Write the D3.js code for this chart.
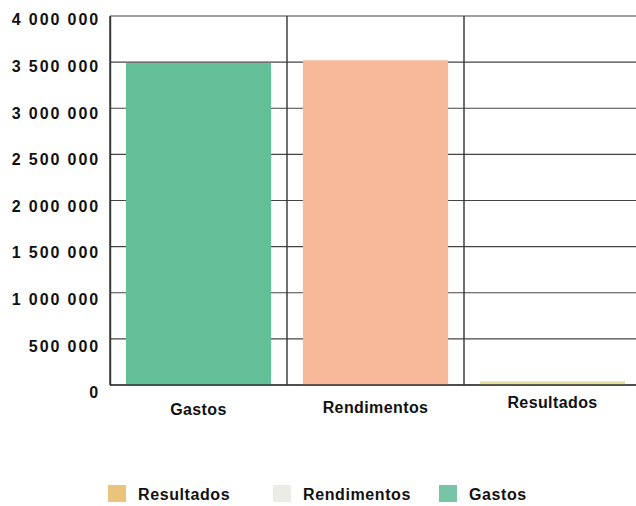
<!DOCTYPE html>
<html>
<head>
<meta charset="utf-8">
<script src="https://cdn.jsdelivr.net/npm/d3@7/dist/d3.min.js"></script>
<style>
  html, body { margin: 0; padding: 0; background: #fff; }
  svg { display: block; }
  text { font-family: "Liberation Sans", Arial, sans-serif; fill: #111; }
</style>
</head>
<body>
<script>
// Categories and values (in euros)
const categories = ["Gastos", "Rendimentos", "Resultados"];
const values = [3490000, 3520000, 40000];
const barColors = ["#63bf98", "#f7b99a", "#e3df9e"];
const yTicks = [0, 500000, 1000000, 1500000, 2000000, 2500000, 3000000, 3500000, 4000000];
const legendLabels = ["Resultados", "Rendimentos", "Gastos"];
const legendColors = ["#ebc47c", "#ececE6", "#79c4a6"];

const W = 636, H = 506;
const margin = { top: 16, right: -5, bottom: 121, left: 110 };

const svg = d3.select("body").append("svg")
  .attr("width", W).attr("height", H);

const x = d3.scaleBand()
  .domain(categories)
  .range([margin.left, W - margin.right])
  .paddingInner(0.18)
  .paddingOuter(0.09);

const y = d3.scaleLinear()
  .domain([0, 4000000])
  .range([H - margin.bottom, margin.top]);

const fmt = v => d3.format(",")(v).replace(/,/g, " ");

// horizontal gridlines
svg.append("g")
  .selectAll("line").data(yTicks).join("line")
  .attr("x1", margin.left).attr("x2", W)
  .attr("y1", d => y(d)).attr("y2", d => y(d))
  .attr("stroke", "#444").attr("stroke-width", 1.2);

// category separators
const step = x.step();
const seps = categories.map((c, i) => margin.left + i * step);
svg.append("g")
  .selectAll("line").data(seps).join("line")
  .attr("x1", d => d).attr("x2", d => d)
  .attr("y1", y(4000000)).attr("y2", y(0))
  .attr("stroke", "#333").attr("stroke-width", 1.4);

// bars
svg.append("g")
  .selectAll("rect").data(categories).join("rect")
  .attr("x", d => x(d))
  .attr("width", x.bandwidth())
  .attr("y", (d, i) => y(values[i]))
  .attr("height", (d, i) => y(0) - y(values[i]))
  .attr("fill", (d, i) => barColors[i]);

// baseline
svg.append("line")
  .attr("x1", margin.left).attr("x2", W)
  .attr("y1", y(0)).attr("y2", y(0))
  .attr("stroke", "#333").attr("stroke-width", 1.6);

// y axis labels
const yAxis = d3.axisLeft(y).tickValues(yTicks).tickFormat(fmt).tickSize(0).tickPadding(10);
const gy = svg.append("g")
  .attr("transform", `translate(${margin.left},0)`)
  .call(yAxis);
gy.select(".domain").attr("stroke", "#333").attr("stroke-width", 1.4);
gy.selectAll("text")
  .attr("dy", (d) => (0.55 + 0.25 * (1 - d / 4000000)) + "em")
  .style("font-size", "16px")
  .style("font-weight", "bold")
  .style("letter-spacing", "1.9px")
  .style("font-family", "'Liberation Sans', Arial, sans-serif")
  .attr("fill", "#111");

// x axis labels
const xAxis = d3.axisBottom(x).tickSize(0).tickPadding(0);
const gx = svg.append("g")
  .attr("transform", `translate(0,${y(0)})`)
  .call(xAxis);
gx.select(".domain").remove();
gx.selectAll("text")
  .attr("dy", (d, i) => [30, 28, 23][i])
  .style("font-size", "16px")
  .style("font-weight", "bold")
  .style("letter-spacing", "0.4px")
  .style("font-family", "'Liberation Sans', Arial, sans-serif")
  .attr("fill", "#111");

// legend
const legendX = [108, 273, 439];
const lg = svg.append("g").attr("transform", "translate(0,485)");
const items = lg.selectAll("g").data(legendLabels).join("g")
  .attr("transform", (d, i) => `translate(${legendX[i]},0)`);
items.append("rect")
  .attr("width", 18).attr("height", 17)
  .attr("fill", (d, i) => legendColors[i]);
items.append("text")
  .attr("x", 30).attr("y", 15)
  .style("font-size", "16px")
  .style("font-weight", "bold")
  .style("letter-spacing", "0.6px")
  .text(d => d);
</script>
</body>
</html>
